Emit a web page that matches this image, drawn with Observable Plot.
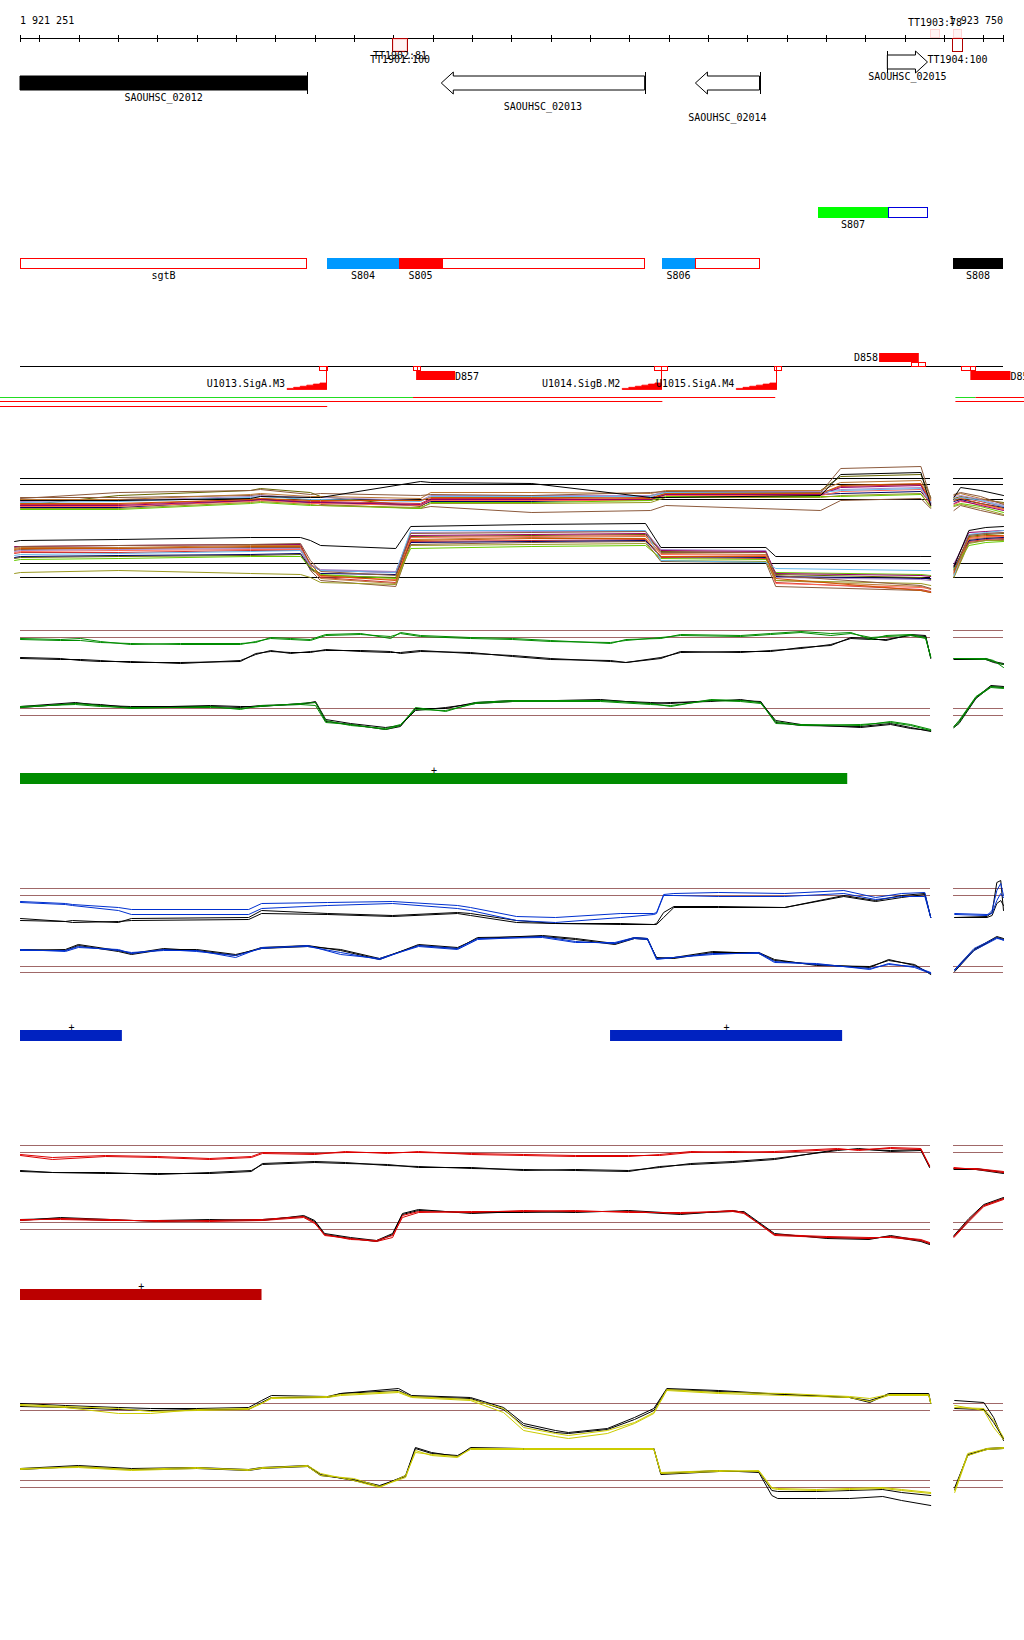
<!DOCTYPE html>
<html><head><meta charset="utf-8">
<script src="https://cdn.jsdelivr.net/npm/d3@7"></script>
<script src="https://cdn.jsdelivr.net/npm/@observablehq/plot@0.6"></script>
<style>
body{margin:0;background:#fff;}
#chart{position:relative;width:1024px;height:1640px;overflow:hidden;background:#fff;}
#chart svg{position:absolute;left:0;overflow:visible;background:transparent;}
</style></head><body><div id="chart"></div>
<script>
// ---------------- DATA ----------------
const START = 1921251, END = 1923750;          // genomic window (bp); positions below are bp offsets from START
const TICK_STEP = 100;

// genes
const geneNames = ["SAOUHSC_02012","SAOUHSC_02013","SAOUHSC_02014","SAOUHSC_02015"];
const geneStarts = [-320, 1071, 1717, 2205];
const geneEnds = [730, 1588, 1880, 2307];
const geneStrands = ["-","-","-","+"];
const geneHighlighted = [true,false,false,false];

// terminators
const termNames = ["TT1901:100","TT1902:81","TT1903:78","TT1904:100",""];
const termStarts = [946, 946, 2311, 2370, 2370];
const termEnds = [984, 984, 2340, 2395, 2395];
const termStrands = ["-","-","+","-","+"];
const termScores = [100, 81, 78, 100, 78];

// transcript features
const featNames = ["sgtB","S804","S805","","S806","","S807","","S808"];
const featStarts = [0,781,964,1073,1633,1717,2029,2206,2373];
const featEnds = [730,964,1073,1589,1717,1881,2206,2308,2499];
const featKinds = ["annotated","utr","segment","annotated","utr","annotated","novel","antisense","other"];
const featRows = [0,0,0,0,0,0,1,1,0];

// promoters
const promNames = ["U1013.SigA.M3","U1014.SigB.M2","U1015.SigA.M4"];
const promTss = [778, 1630, 1921];
const promBoxStarts = [760, 1612, 1917];
const promBoxEnds = [781, 1645, 1935];
const promMotifStarts = [679, 1531, 1821];

// D regions
const dNames = ["D857","D858","D859"];
const dStarts = [1007, 2184, 2416];
const dEnds = [1106, 2285, 2518];
const dStrands = ["-","+","-"];
const dBoxStarts = [999, 2266, 2393];
const dBoxEnds = [1017, 2301, 2429];
const dAnchors = [1008, 2284, 2416];

// transcription-unit lines
const tuStarts = [-51, 999, 2378, 2429, -51, 2378, -51];
const tuEnds = [999, 1920, 2429, 2553, 1633, 2553, 781];
const tuRows = [0, 0, 0, 0, 1, 1, 2];
const tuClasses = ["A","B","A","B","B","B","B"];

// probe coverage (signal gap between the two spans)
const panelSpans = [[0, 2314], [2373, 2499]];

// ---- all-conditions track (levels) ----
const multiUpPos = [0,250,585,610,737,763,1017,1043,1300,1602,1640,2034,2085,2289,2314,2340,2373,2390,2441,2499];
const multiUp = [
 [20,20,22,24,23,23,39,38,37,23,23,25,46,48,15,null,23,33,30,25],
 [22,28,30,31,26,27,25,26,25,28,29,28,52,54,22,null,26,28,24,16],
 [17,17,21,22,20,20,20,23,23,22,27,27,35,37,20,null,20,22,17,12],
 [18,19,23,24,21,21,19,24,24,24,28,28,30,32,18,null,21,23,20,14],
 [15,15,20,21,18,18,16,21,21,21,26,26,33,35,16,null,17,20,15,10],
 [12,12,18,19,16,15,13,17,17,18,23,23,25,27,13,null,14,16,12,6],
 [11,11,17,18,15,15,12,18,18,20,24,24,24,26,14,null,15,17,14,8],
 [19,20,24,25,23,23,20,25,25,25,29,29,31,33,19,null,24,25,21,15],
 [14,14,19,20,17,17,15,20,20,20,25,25,29,31,15,null,16,19,16,11],
 [13,13,20,21,18,18,15,19,19,21,26,26,27,29,17,null,19,21,17,13],
 [21,21,26,27,24,24,22,28,28,27,30,30,38,40,21,null,25,27,22,17],
 [16,16,21,22,19,19,17,22,22,23,27,27,34,36,18,null,21,23,19,14],
 [23,23,25,26,20,16,12,14,8,10,15,10,20,22,12,null,10,15,10,5],
 [15,25,30,32,28,24,14,20,22,25,28,30,44,46,23,null,22,24,21,18]
];
const multiLowPos = [-15,0,250,585,712,737,763,954,992,1300,1589,1628,1895,1920,2289,2314,2340,2373,2411,2454,2499];
const multiLow = [
 [64,65,66,68,68,65,60,57,79,81,82,58,58,49,49,49,null,39,75,78,79],
 [58,59,60,61,62,45,34,30,72,73,74,53,53,30,20,17,null,35,70,72,73],
 [56,57,57,59,59,42,30,25,65,67,67,49,49,27,15,13,null,33,68,70,70],
 [50,51,52,54,55,40,35,33,75,75,75,45,43,37,35,35,null,30,71,73,75],
 [59,59,60,61,61,40,35,33,70,71,72,55,54,32,30,29,null,40,73,74,75],
 [32,33,35,32,31,28,23,21,60,61,62,45,44,25,22,20,null,28,62,65,65],
 [45,46,47,49,49,38,31,27,57,59,60,47,46,33,31,30,null,37,60,63,64],
 [54,55,56,57,57,41,36,34,73,74,74,56,55,28,26,25,null,42,71,72,73],
 [53,54,55,56,56,39,29,26,68,69,70,51,50,22,18,17,null,34,67,69,69],
 [48,49,50,51,52,37,32,31,63,64,65,49,48,29,27,27,null,38,65,67,68],
 [57,58,58,60,60,39,27,22,66,68,69,52,51,25,19,16,null,31,66,68,69],
 [52,53,53,55,55,38,28,23,64,65,66,48,47,23,16,14,null,32,64,66,67],
 [55,56,57,58,58,35,25,19,61,63,64,44,43,19,15,13,null,29,63,65,66],
 [47,48,49,50,51,36,30,28,69,70,71,54,53,31,28,26,null,36,69,71,72]
];
const multiColors = ["#000000","#8c5a3c","#cc5500","#66bbee","#990066","#999922","#66cc00","#aa88cc","#ff6655","#000066","#bb7733","#cc3333","#8c5a3c","#666600"];
const multiUpRefs = [42, 36, 21];
const multiLowRefs = [42, 28];

// ---- green condition ----
const greenUpPos = [0,102,153,203,280,407,559,598,636,687,737,776,865,941,966,1017,1144,1251,1348,1500,1539,1628,1678,1831,1907,1984,2060,2111,2162,2200,2263,2301,2314,2340,2373,2454,2474,2499];
const greenUpCol1 = [37,36,37,34,31,32,32,33,38,37,36,41,42,37,43,40,38,37,35,32,36,37,41,40,42,44,42,43,36,40,41,38,18,null,17,17,15,8];
const greenUpCol2 = [36,35,35,33,32,31,31,34,37,36,35,40,41,39,42,39,37,36,34,33,35,38,40,39,41,43,40,42,38,39,40,37,19,null,17,16,14,11];
const greenUpRef1 = [17,16,16,15,13,13,14,22,24,23,23,26,24,23,23,25,22,20,17,14,13,18,23,24,24,28,30,38,37,35,41,40,17,null,17,17,14,12];
const greenUpRef2 = [18,17,15,14,14,12,15,21,25,22,24,25,25,24,22,24,23,19,16,15,13,17,24,23,25,27,31,37,36,36,40,39,18,null,16,16,13,11];
const greenLowPos = [0,140,203,280,483,559,610,712,750,776,839,928,966,1004,1081,1157,1251,1475,1602,1653,1755,1831,1882,1920,1984,2136,2212,2263,2314,2340,2373,2386,2429,2467,2499];
const greenLowCol1 = [33,37,35,32,34,31,35,36,35,18,16,11,15,33,29,38,40,40,37,34,41,40,38,17,16,15,19,16,11,null,14,20,44,54,53];
const greenLowCol2 = [34,36,34,33,33,32,34,37,38,20,15,12,16,31,30,37,39,39,36,35,40,39,37,19,15,16,18,15,10,null,13,18,43,53,52];
const greenLowRef1 = [33,37,36,33,35,34,34,37,38,19,16,11,14,32,32,38,40,40,38,37,40,40,39,18,15,14,17,13,9,null,14,19,43,55,54];
const greenLowRef2 = [34,38,35,34,34,33,35,36,39,21,17,13,15,30,33,37,39,41,37,38,39,41,38,20,16,13,16,12,10,null,13,17,42,54,53];
const greenBarStarts = [0], greenBarEnds = [2103];

// ---- blue condition ----
const blueUpPos = [0,114,132,249,282,580,613,781,946,1111,1144,1261,1360,1526,1610,1617,1635,1661,1775,1943,2093,2174,2240,2299,2314,2340,2375,2457,2470,2482,2492,2499];
const blueUpCol1 = [29,27,26,23,21,21,27,28,29,25,23,14,13,17,17,18,36,37,38,37,40,33,37,38,13,null,16,15,20,40,47,35];
const blueUpCol2 = [28,26,25,20,16,16,22,25,27,22,20,10,8,13,16,17,35,35,34,34,37,31,34,34,13,null,17,16,17,30,37,33];
const blueUpRef1 = [12,9,10,8,12,13,20,17,15,18,17,10,7,7,6,7,18,24,24,23,35,30,35,37,13,null,13,14,18,48,50,20];
const blueUpRef2 = [10,9,8,9,10,11,17,16,14,17,15,8,7,6,6,6,13,23,23,23,34,29,33,36,13,null,13,13,15,27,30,25];
const blueLowPos = [0,114,147,249,282,364,448,547,613,730,814,913,1012,1111,1162,1327,1411,1511,1561,1594,1617,1661,1760,1877,1917,2024,2159,2207,2273,2314,2340,2375,2424,2482,2499];
const blueLowCol1 = [40,40,44,40,38,40,40,33,43,44,38,31,45,42,52,53,48,48,53,52,32,33,37,37,28,27,21,27,23,17,null,21,42,53,50];
const blueLowCol2 = [41,39,43,41,37,41,39,35,42,45,36,32,44,41,51,54,49,47,52,51,31,33,36,38,29,26,22,26,24,18,null,20,40,52,51];
const blueLowRef1 = [40,41,46,40,37,42,40,35,43,45,40,31,46,43,52,55,52,47,53,52,32,33,39,37,30,26,23,31,25,17,null,21,41,54,52];
const blueLowRef2 = [41,40,45,39,36,41,41,36,42,44,41,32,45,42,53,54,51,46,52,51,33,32,38,38,31,25,24,30,26,16,null,19,40,53,51];
const blueBarStarts = [0, 1500], blueBarEnds = [259, 2090];

// ---- red condition ----
const redUpPos = [0,81,216,348,481,587,615,748,826,933,1012,1147,1279,1411,1546,1625,1704,1811,1917,2077,2131,2212,2289,2311,2340,2373,2429,2499];
const redUpCol1 = [35,31,34,33,31,33,37,36,39,37,39,36,35,34,34,36,39,38,39,42,40,43,42,24,null,22,22,19];
const redUpCol2 = [36,33,35,34,32,34,38,37,38,38,38,37,36,35,35,35,38,39,38,41,41,42,41,25,null,23,21,18];
const redUpRef1 = [19,18,17,17,17,19,27,29,28,25,24,22,21,20,19,24,26,28,31,41,41,40,41,24,null,22,22,18];
const redUpRef2 = [20,18,18,16,18,20,26,28,27,26,23,23,20,21,20,23,27,29,32,40,42,39,40,23,null,21,21,17];
const redLowPos = [0,102,229,348,481,615,720,748,773,839,905,946,971,1012,1147,1279,1411,1546,1678,1811,1839,1917,2050,2157,2212,2289,2311,2340,2373,2411,2449,2499];
const redLowCol1 = [35,37,36,34,35,36,39,33,20,17,14,18,40,44,43,45,44,44,42,45,43,20,18,17,19,16,13,null,19,36,50,57];
const redLowCol2 = [36,36,35,35,34,35,38,32,21,16,15,20,38,43,44,44,45,43,43,44,42,21,19,18,18,15,12,null,18,34,49,56];
const redLowRef1 = [36,37,35,35,36,35,40,35,22,18,15,22,42,46,42,44,43,45,42,44,44,22,17,16,20,15,12,null,20,37,51,58];
const redLowRef2 = [35,38,36,34,35,36,39,34,21,17,14,21,41,45,43,43,44,44,41,45,43,21,18,17,19,14,11,null,19,35,50,57];
const redBarStarts = [0], redBarEnds = [614];

// ---- yellow condition ----
const yellowUpPos = [0,114,249,331,448,580,613,638,781,814,961,994,1144,1228,1279,1360,1393,1492,1561,1610,1643,1775,1943,2108,2159,2207,2309,2314,2340,2375,2449,2474,2499];
const yellowUpCol1 = [40,38,32,32,36,37,42,47,48,50,53,48,45,33,15,9,7,12,22,32,55,52,50,48,44,50,50,42,null,40,35,18,6];
const yellowUpCol2 = [41,39,37,34,35,36,42,48,49,51,54,49,46,37,18,12,10,15,23,33,56,53,52,49,47,51,51,43,null,38,37,25,8];
const yellowUpRef1 = [42,40,38,37,37,38,45,50,49,52,57,50,48,38,22,15,13,17,28,37,57,55,51,48,43,52,52,42,null,45,43,28,5];
const yellowUpRef2 = [39,38,36,35,36,36,43,48,48,52,55,49,47,36,20,13,12,16,26,35,56,54,51,48,45,51,51,42,null,37,36,23,7];
const yellowLowPos = [0,147,282,448,580,613,730,763,847,913,979,1004,1045,1111,1144,1279,1610,1628,1775,1877,1910,1925,2024,2108,2192,2240,2314,2340,2375,2408,2457,2499];
const yellowLowCol1 = [41,44,41,43,40,43,44,35,32,24,33,60,55,53,62,62,62,38,40,39,22,21,20,21,22,20,17,null,20,57,62,63];
const yellowLowCol2 = [42,43,40,42,41,42,45,37,30,23,35,58,56,54,61,61,61,37,39,40,23,22,21,22,23,21,18,null,18,55,61,62];
const yellowLowRef1 = [42,45,42,43,41,43,45,36,30,24,35,63,58,54,63,62,62,37,40,38,15,12,12,12,14,10,5,null,23,55,62,63];
const yellowLowRef2 = [41,44,41,42,40,42,44,35,31,25,34,62,57,55,62,61,62,36,39,39,20,19,19,20,21,18,15,null,21,56,61,62];

// ---------------- RENDERING ----------------
const FONT = "'DejaVu Sans Mono', monospace";
const DOMAIN_END = END - START;
const X = {domain: [0, DOMAIN_END], range: [20, 1003], axis: null};
const chart = document.getElementById("chart");
const fmt = v => d3.format(",")(v).replace(/,/g, " ");
const crisp = v => Math.round(v) + 0.5;
function place(svg, top) { svg.style.top = top + "px"; chart.appendChild(svg); }
function fnMark(drawer) {
  return (index, scales) => { const g = d3.create("svg:g"); drawer(g, scales.x); return g.node(); };
}
function label(g, x, y, t, anchor = "middle") {
  g.append("text").attr("x", x).attr("y", y).attr("text-anchor", anchor)
    .attr("font-family", FONT).attr("font-size", 10).attr("fill", "#000").text(t);
}
function seg(g, x1, y1, x2, y2, color) {
  g.append("line").attr("x1", x1).attr("y1", y1).attr("x2", x2).attr("y2", y2).attr("stroke", color).attr("stroke-width", 1);
}
function box(g, x1, y1, x2, y2, stroke, fill = "none") {
  g.append("rect").attr("x", x1).attr("y", y1).attr("width", x2 - x1).attr("height", y2 - y1)
    .attr("fill", fill).attr("stroke", stroke).attr("stroke-width", 1);
}

const rulerTicks = d3.range(Math.ceil(START / TICK_STEP) * TICK_STEP, END + 1, TICK_STEP).map(v => v - START);

function drawRuler(g, x) {
  seg(g, x(0), 38.5, x(DOMAIN_END), 38.5, "#000");
  for (const t of [0, ...rulerTicks, DOMAIN_END]) { const xx = crisp(x(t)); seg(g, xx, 35, xx, 42, "#000"); }
  label(g, x(0), 24, fmt(START), "start");
  label(g, x(DOMAIN_END), 24, fmt(END), "end");
}
function drawTerminators(g, x) {
  termNames.forEach((n, i) => {
    const strong = termScores[i] >= 90, plus = termStrands[i] === "+";
    const x0 = crisp(x(termStarts[i])), x1 = crisp(x(termEnds[i]));
    const [ya, yb] = plus ? [28.5, 38.5] : [38.5, 51.5];
    const ins = strong ? 0 : 1;
    box(g, x0 + ins, ya + ins, x1 - ins, yb - ins, strong ? "#b00000" : "#ffd4d4", strong ? "none" : "#fff3f3");
    if (n) label(g, (x0 + x1) / 2, plus ? 26 : (strong ? 63 : 59), n);
  });
}
function drawGenes(g, x) {
  const laneCenter = [83, 83, 83, 62], labelBase = [101, 110, 121, 80];
  geneNames.forEach((n, i) => {
    const cs = geneStarts[i] < 0, ce = geneEnds[i] > DOMAIN_END;
    const x0 = x(Math.max(0, geneStarts[i])), x1 = x(Math.min(DOMAIN_END, geneEnds[i]));
    const cy = laneCenter[i], hb = 7, hh = 11, hl = 12;
    const fill = geneHighlighted[i] ? "#000" : "#fff";
    let d;
    if (geneStrands[i] === "-") {
      if (cs) d = `M${x1},${cy-hb}L${x0},${cy-hb}L${x0},${cy+hb}L${x1},${cy+hb}Z`;
      else d = `M${x1},${cy-hb}L${x0+hl},${cy-hb}L${x0+hl},${cy-hh}L${x0},${cy}L${x0+hl},${cy+hh}L${x0+hl},${cy+hb}L${x1},${cy+hb}Z`;
      if (!ce) seg(g, crisp(x1), cy - hh, crisp(x1), cy + hh, "#000");
    } else {
      if (ce) d = `M${x0},${cy-hb}L${x1},${cy-hb}L${x1},${cy+hb}L${x0},${cy+hb}Z`;
      else d = `M${x0},${cy-hb}L${x1-hl},${cy-hb}L${x1-hl},${cy-hh}L${x1},${cy}L${x1-hl},${cy+hh}L${x1-hl},${cy+hb}L${x0},${cy+hb}Z`;
      if (!cs) seg(g, crisp(x0), cy - hh, crisp(x0), cy + hh, "#000");
    }
    g.append("path").attr("d", d).attr("fill", fill).attr("stroke", "#000").attr("stroke-width", 1);
    label(g, (x0 + x1) / 2, labelBase[i], n);
  });
}
const featStyle = {
  annotated: {fill: "#fff", stroke: "#ff0000"}, utr: {fill: "#0099ff"}, segment: {fill: "#ff0000"},
  novel: {fill: "#00ff00"}, antisense: {fill: "#fff", stroke: "#0000dd"}, other: {fill: "#000"}
};
function drawFeatures(g, x) {
  const rowTop = [258, 207], rowLabel = [279, 228];
  featNames.forEach((n, i) => {
    const st = featStyle[featKinds[i]], y0 = rowTop[featRows[i]];
    const x0 = Math.round(x(featStarts[i])), x1 = Math.round(x(featEnds[i]));
    if (st.stroke) box(g, x0 + 0.5, y0 + 0.5, x1 - 0.5, y0 + 10.5, st.stroke, st.fill);
    else g.append("rect").attr("x", x0).attr("y", y0).attr("width", x1 - x0).attr("height", 11).attr("fill", st.fill);
    if (n) label(g, (x0 + x1) / 2, rowLabel[featRows[i]], n);
  });
}
const tuColor = {A: "#22dd22", B: "#ff0000"};
function drawRegulation(g, x) {
  seg(g, x(0), 366.5, x(DOMAIN_END), 366.5, "#000");
  promNames.forEach((n, i) => {
    const xt = crisp(x(promTss[i])), xs = x(promMotifStarts[i]), w = xt - xs, steps = 6;
    let d = `M${xs},389.5`;
    for (let k = 0; k < steps; k++) {
      const h = 389.5 - 6.5 * (k + 1) / steps;
      d += `L${xs + w * k / steps},${h}L${xs + w * (k + 1) / steps},${h}`;
    }
    d += `L${xt},389.5Z`;
    g.append("path").attr("d", d).attr("fill", "#ff0000").attr("stroke", "#ff0000").attr("stroke-width", 0.8);
    box(g, crisp(x(promBoxStarts[i])), 366.5, crisp(x(promBoxEnds[i])), 370.5, "#ff0000");
    seg(g, xt, 366.5, xt, 389.5, "#ff0000");
    label(g, xs - 2, 387, n, "end");
  });
  dNames.forEach((n, i) => {
    const plus = dStrands[i] === "+";
    const x0 = x(dStarts[i]), x1 = x(dEnds[i]);
    g.append("rect").attr("x", x0).attr("y", plus ? 353 : 371).attr("width", x1 - x0).attr("height", 9).attr("fill", "#ff0000");
    const yb = plus ? [362.5, 366.5] : [366.5, 370.5];
    box(g, crisp(x(dBoxStarts[i])), yb[0], crisp(x(dAnchors[i])), yb[1], "#ff0000");
    box(g, crisp(x(dAnchors[i])), yb[0], crisp(x(dBoxEnds[i])), yb[1], "#ff0000");
    if (plus) label(g, x0 - 1, 361, n, "end"); else label(g, x1, 380, n, "start");
  });
  const rowY = [397.5, 401.5, 406.5];
  tuStarts.forEach((s, i) => seg(g, x(s), rowY[tuRows[i]], x(tuEnds[i]), rowY[tuRows[i]], tuColor[tuClasses[i]]));
}

place(Plot.plot({
  width: 1024, height: 420, margin: 0, x: X,
  style: {background: "transparent", overflow: "visible"},
  marks: [
    Plot.ruleX([0, DOMAIN_END], {x: d => d, strokeOpacity: 0}),
    fnMark(drawRuler), fnMark(drawFeatures), fnMark(drawGenes), fnMark(drawTerminators), fnMark(drawRegulation)
  ]
}), 0);

function panel(top, height, positions, seriesList, colorList, refs, refColor) {
  const refRows = refs.flatMap(level => panelSpans.map(([a, b]) => ({level, a, b})));
  const marks = [Plot.ruleY(refRows, {y: "level", x1: "a", x2: "b", stroke: refColor, strokeWidth: 1, shapeRendering: "crispEdges"})];
  seriesList.forEach((vals, k) => {
    const rows = []; let s = 0;
    vals.forEach((v, i) => { if (v == null) s++; else rows.push({pos: positions[i], value: v, seg: s}); });
    marks.push(Plot.line(rows, {x: "pos", y: "value", z: "seg", stroke: colorList[k], strokeWidth: 1}));
  });
  place(Plot.plot({
    width: 1024, height, margin: 0, x: X,
    y: {domain: [0, height], range: [height, 0], axis: null},
    style: {background: "transparent", overflow: "visible"}, marks
  }), top);
}
function barTrack(top, starts, ends, color) {
  const segs = starts.map((s, i) => ({s, e: ends[i], m: (s + ends[i]) / 2}));
  place(Plot.plot({
    width: 1024, height: 22, margin: 0, x: X,
    style: {background: "transparent", overflow: "visible"},
    marks: [
      Plot.barX(segs, {x1: "s", x2: "e", fill: color, insetTop: 11}),
      Plot.text(segs, {x: "m", text: () => "+", frameAnchor: "top", dy: 4, fontSize: 10, fontFamily: "DejaVu Sans Mono", fill: "#000"})
    ]
  }), top);
}

// all conditions
const order = d3.range(multiUp.length).reverse();
panel(450, 70, multiUpPos, order.map(i => multiUp[i]), order.map(i => multiColors[i]), multiUpRefs, "#000");
panel(515, 90, multiLowPos, order.map(i => multiLow[i]), order.map(i => multiColors[i]), multiLowRefs, "#000");

const BROWN = "#a06868";
// green
panel(620, 55, greenUpPos, [greenUpRef1, greenUpRef2, greenUpCol1, greenUpCol2], ["#000","#000","#008c00","#008c00"], [45, 38], BROWN);
panel(680, 60, greenLowPos, [greenLowRef1, greenLowRef2, greenLowCol1, greenLowCol2], ["#000","#000","#008c00","#008c00"], [32, 25], BROWN);
barTrack(762, greenBarStarts, greenBarEnds, "#008c00");
// blue
panel(875, 55, blueUpPos, [blueUpRef1, blueUpRef2, blueUpCol1, blueUpCol2], ["#000","#000","#0030d0","#0030d0"], [42, 35], BROWN);
panel(930, 60, blueLowPos, [blueLowRef1, blueLowRef2, blueLowCol1, blueLowCol2], ["#000","#000","#0030d0","#0030d0"], [24, 18], BROWN);
barTrack(1019, blueBarStarts, blueBarEnds, "#0022c0");
// red
panel(1135, 55, redUpPos, [redUpRef1, redUpRef2, redUpCol1, redUpCol2], ["#000","#000","#dd0000","#dd0000"], [45, 38], BROWN);
panel(1190, 65, redLowPos, [redLowRef1, redLowRef2, redLowCol1, redLowCol2], ["#000","#000","#dd0000","#dd0000"], [33, 26], BROWN);
barTrack(1278, redBarStarts, redBarEnds, "#bb0000");
// yellow
panel(1385, 60, yellowUpPos, [yellowUpRef1, yellowUpRef2, yellowUpCol1, yellowUpCol2], ["#000","#000","#cccc00","#cccc00"], [42, 35], BROWN);
panel(1445, 65, yellowLowPos, [yellowLowRef1, yellowLowRef2, yellowLowCol1, yellowLowCol2], ["#000","#000","#cccc00","#cccc00"], [30, 23], BROWN);
</script></body></html>
